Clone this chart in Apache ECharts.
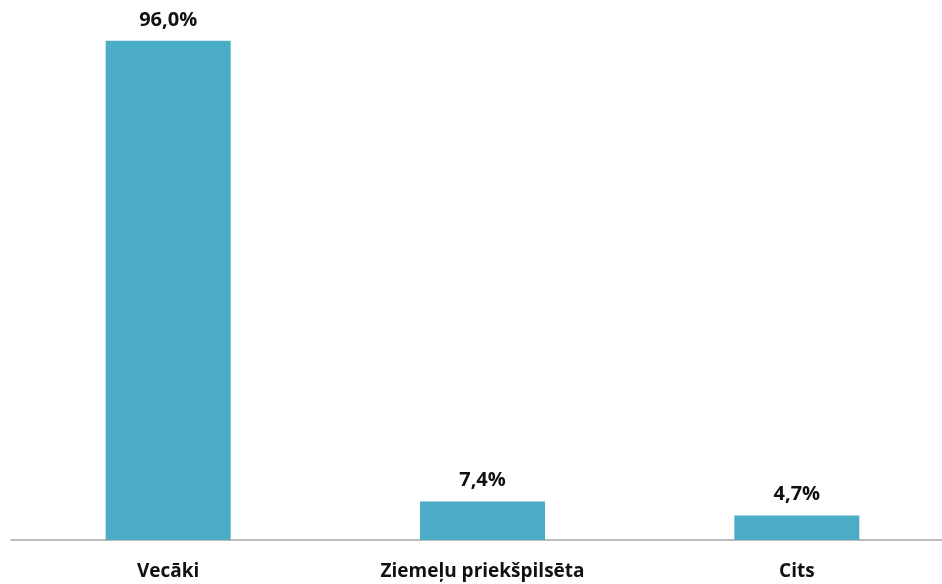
<!DOCTYPE html>
<html>
<head>
<meta charset="utf-8">
<script src="https://cdn.jsdelivr.net/npm/echarts@6/dist/echarts.min.js"></script>
<style>
html, body { margin: 0; padding: 0; background: #fff; }
#chart { width: 942px; height: 584px; }
</style>
</head>
<body>
<div id="chart"></div>
<script>
// dati
var categories = ['Vecāki', 'Ziemeļu priekšpilsēta', 'Cits']
var values = [96.0, 7.4, 4.7]

var chart = echarts.init(document.getElementById('chart'))

function fmt(v) {
  return v.toFixed(1).replace('.', ',') + '%'
}

chart.setOption({
  animation: false,
  grid: { left: 11, right: -12, top: 20, bottom: 44, containLabel: false, outerBoundsMode: 'none' },
  xAxis: {
    type: 'category',
    data: categories,
    axisTick: { show: false },
    axisLine: { lineStyle: { color: '#a6a6a6', width: 1.5 } },
    axisLabel: {
      margin: 22,
      color: '#111',
      fontFamily: 'Open Sans',
      fontWeight: 'bold',
      fontSize: 19
    }
  },
  yAxis: {
    type: 'value',
    min: 0,
    max: 100,
    show: false,
    splitLine: { show: false }
  },
  series: [{
    type: 'bar',
    data: values,
    barWidth: 125,
    itemStyle: { color: '#4bacc6' },
    label: {
      show: true,
      position: 'top',
      distance: 11,
      color: '#111',
      fontFamily: 'Open Sans',
      fontWeight: 'bold',
      fontSize: 20,
      formatter: function(p) { return fmt(p.value) }
    }
  }]
})
</script>
</body>
</html>
